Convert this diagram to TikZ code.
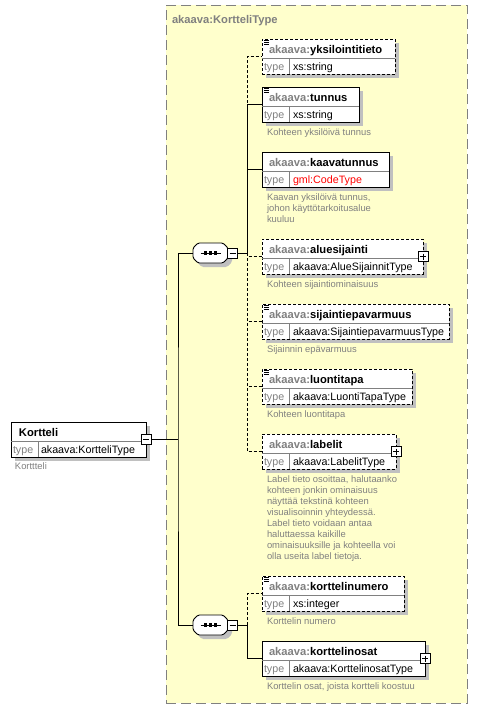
\documentclass[tikz,border=0pt]{standalone}
\usepackage{fontspec}
\setmainfont{Liberation Sans}
\usepackage{xcolor}
\usepackage{tikz}
\usetikzlibrary{calc}
\usetikzlibrary{positioning}
\usetikzlibrary{shadows}

\definecolor{typeyellow}{RGB}{255,255,204}
\definecolor{xsdgray}{RGB}{128,128,128}
\definecolor{shadowgray}{RGB}{192,192,192}

\begin{document}
\begin{tikzpicture}[
    x=1pt, y=-1pt,
    every node/.style={inner sep=0pt, outer sep=0pt},
    shadowed/.style={drop shadow={shadow xshift=4pt, shadow yshift=-4pt,
        fill=shadowgray, opacity=1}},
    elbox/.style={draw, fill=white, minimum height=35pt, line width=0.9pt, shadowed},
    optional/.style={dash pattern=on 3pt off 2pt},
    required/.style={solid},
    rowline/.style={draw=xsdgray, line width=0.7pt},
    connector/.style={line width=0.9pt},
    typeframe/.style={draw=xsdgray, fill=typeyellow, line width=0.9pt,
        dash pattern=on 10pt off 5pt},
    seqbox/.style={minimum width=35pt, minimum height=20pt},
    togglebox/.style={draw, fill=white, minimum size=10pt, line width=0.8pt,
        path picture={\draw[line width=0.8pt]
          ([xshift=2pt]path picture bounding box.west) --
          ([xshift=-2pt]path picture bounding box.east);}},
    plus/.style={path picture={\draw[line width=0.8pt]
          ([xshift=2pt]path picture bounding box.west) --
          ([xshift=-2pt]path picture bounding box.east)
          ([yshift=-2pt]path picture bounding box.north) --
          ([yshift=2pt]path picture bounding box.south);}},
    nametext/.style={anchor=base west, font=\fontsize{11.2}{13}\selectfont\bfseries},
    typetext/.style={anchor=base west, font=\fontsize{10.7}{12}\selectfont},
    desctext/.style={anchor=north west, align=left, text=xsdgray,
        font=\fontsize{9.4}{11}\selectfont},
  ]

  \fill[white] (0,0) rectangle (478,710);
  \useasboundingbox (0,0) rectangle (478,710);

  % complex type frame
  \node[typeframe, minimum width=301pt, minimum height=698pt, anchor=north west]
    (kortteliType) at (166,5) {};
  \node[nametext, text=xsdgray] (kortteliType-title) at (172,23) {akaava:KortteliType};

  % root element
  \node[elbox, required, minimum width=135pt, anchor=north west] (kortteli) at (11,422) {};
  \draw[rowline] (11,441.5) -- (146,441.5);
  \draw[rowline] (38,441.5) -- (38,457);
  \node[nametext] (kortteli-name) at (19,436) {Kortteli};
  \node[typetext, text=xsdgray] (kortteli-typekey) at (13,453) {type};
  \node[typetext] (kortteli-type) at (41,453) {akaava:KortteliType};
  \node[desctext] (kortteli-doc) at (15,463) {Korttteli};

  % child elements
  \foreach \id/\ey/\bw/\brd/\tp in {
      yksilointitieto/39/133/optional/xs:string,
      tunnus/87/97/required/xs:string,
      kaavatunnus/152/127/required/{\textcolor{red}{gml:CodeType}},
      aluesijainti/239/161/optional/akaava:AlueSijainnitType,
      sijaintiepavarmuus/304/187/optional/akaava:SijaintiepavarmuusType,
      luontitapa/369/150/optional/akaava:LuontiTapaType,
      labelit/434/134/optional/akaava:LabelitType,
      korttelinumero/576/142/optional/xs:integer,
      korttelinosat/641/163/required/akaava:KorttelinosatType}
  {
    \node[elbox, \brd, minimum width=\bw pt, anchor=north west] (\id) at (262,\ey) {};
    \draw[rowline] (262,\ey+19.5) -- (262+\bw,\ey+19.5);
    \draw[rowline] (289,\ey+19.5) -- (289,\ey+35);
    \node[nametext] (\id-name) at (269,\ey+14) {\textcolor{xsdgray}{akaava:}\id};
    \node[typetext, text=xsdgray] (\id-typekey) at (264,\ey+31) {type};
    \node[typetext] (\id-type) at (293,\ey+31) {\tp};
  }

  % simple content icons
  \foreach \id in {yksilointitieto,tunnus,sijaintiepavarmuus,luontitapa,korttelinumero}
    \foreach \dy in {1.5,3.5,5.5}
      \draw[line width=0.8pt] ($(\id.north west)+(2,\dy)$) -- ++(5,0);

  % documentation
  \node[desctext] (tunnus-doc) at (267,129) {Kohteen yksilöivä tunnus};
  \node[desctext] (kaavatunnus-doc) at (267,194)
    {Kaavan yksilöivä tunnus,\\johon käyttötarkoitusalue\\kuuluu};
  \node[desctext] (aluesijainti-doc) at (267,281) {Kohteen sijaintiominaisuus};
  \node[desctext] (sijaintiepavarmuus-doc) at (267,346) {Sijainnin epävarmuus};
  \node[desctext] (luontitapa-doc) at (267,411) {Kohteen luontitapa};
  \node[desctext] (labelit-doc) at (267,476)
    {Label tieto osoittaa, halutaanko\\kohteen jonkin ominaisuus\\näyttää tekstinä kohteen\\
     visualisoinnin yhteydessä.\\Label tieto voidaan antaa\\haluttaessa kaikille\\
     ominaisuuksille ja kohteella voi\\olla useita label tietoja.};
  \node[desctext] (korttelinumero-doc) at (267,618) {Korttelin numero};
  \node[desctext] (korttelinosat-doc) at (267,683) {Korttelin osat, joista kortteli koostuu};

  % sequences
  \node[seqbox] (seq1) at (210.5,253) {};
  \node[seqbox] (seq2) at (210.5,625) {};
  \foreach \s in {seq1,seq2} {
    \fill[shadowgray, rounded corners=1.5pt] ($(\s.center)+(4,4)$)
      +(-12.5,-10) -- +(12.5,-10) -- +(17.5,-5) -- +(17.5,5)
      -- +(12.5,10) -- +(-12.5,10) -- +(-17.5,5) -- +(-17.5,-5) -- cycle;
    \filldraw[fill=white, line width=0.9pt, rounded corners=1.5pt] (\s.center)
      +(-12.5,-10) -- +(12.5,-10) -- +(17.5,-5) -- +(17.5,5)
      -- +(12.5,10) -- +(-12.5,10) -- +(-17.5,5) -- +(-17.5,-5) -- cycle;
    \draw[line width=0.9pt] ($(\s.center)+(-10,0)$) -- ($(\s.center)+(10,0)$);
    \foreach \dx in {-5,0,5}
      \fill ($(\s.center)+(\dx,0)$) +(-1.6,-1.6) rectangle +(1.6,1.6);
  }
  \node[togglebox] (seq1-toggle) at (232.5,253) {};
  \node[togglebox] (seq2-toggle) at (232.5,625) {};

  % connectors
  \coordinate (kortteli-fork) at (178,439.5);
  \coordinate (seq1-rail) at (247,253);
  \coordinate (seq2-rail) at (247,625);
  \draw[connector] (kortteli.east) -- (kortteli-fork);
  \draw[connector] (seq1.west) -| (kortteli-fork) |- (seq2.west);
  \draw[connector] (seq1-toggle.east) -- (seq1-rail);
  \draw[connector] (seq2-toggle.east) -- (seq2-rail);
  \foreach \id in {yksilointitieto,aluesijainti,sijaintiepavarmuus,luontitapa,labelit}
    \draw[connector, optional] (seq1-rail) |- (\id.west);
  \foreach \id in {tunnus,kaavatunnus}
    \draw[connector] (seq1-rail) |- (\id.west);
  \draw[connector, optional] (seq2-rail) |- (korttelinumero.west);
  \draw[connector] (seq2-rail) |- (korttelinosat.west);

  % expand / collapse boxes
  \node[togglebox] (kortteli-toggle) at (kortteli.east) {};
  \foreach \id in {aluesijainti,labelit,korttelinosat}
    \node[togglebox, plus] (\id-toggle) at (\id.east) {};

\end{tikzpicture}
\end{document}
